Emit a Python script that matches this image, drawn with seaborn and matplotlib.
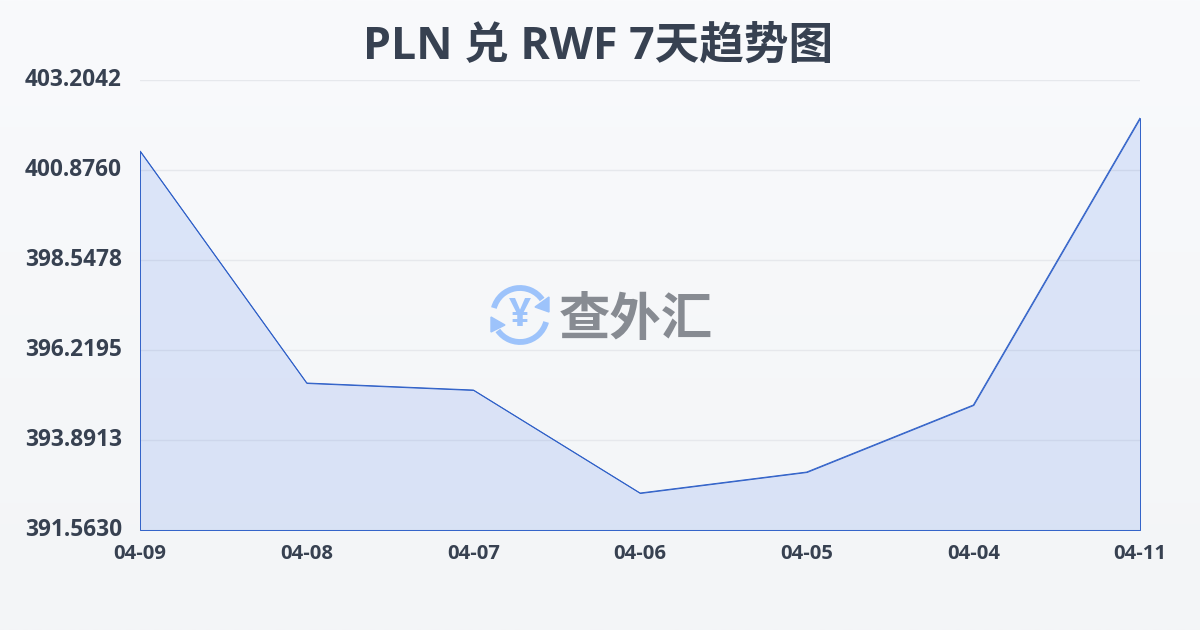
import numpy as np
import pandas as pd
import matplotlib
matplotlib.use('Agg')
import matplotlib.pyplot as plt
from matplotlib.patches import Arc, Polygon
import seaborn as sns

dates = ["04-09", "04-08", "04-07", "04-06", "04-05", "04-04", "04-11"]
rates = [401.367, 395.366, 395.185, 392.520, 393.063, 394.797, 402.221]
y_ticks = [391.5630, 393.8913, 396.2195, 398.5478, 400.8760, 403.2042]
y_labels = ["391.5630", "393.8913", "396.2195", "398.5478", "400.8760", "403.2042"]

sns.set_theme(style="white")
plt.rcParams['font.family'] = ['Open Sans', 'Noto Sans CJK SC', 'DejaVu Sans']

W, H = 1200, 630
text_color = "#374151"
line_color = "#2f60c8"

df = pd.DataFrame({"date": dates, "rate": rates})
df["pos"] = range(len(df))

fig = plt.figure(figsize=(W / 100, H / 100), dpi=100)

# background gradient
bg = fig.add_axes([0, 0, 1, 1], zorder=0)
top = np.array([0xf9, 0xfa, 0xfc]) / 255
bottom = np.array([0xf3, 0xf5, 0xf7]) / 255
t = np.linspace(0, 1, 256)[:, None, None]
bg.imshow(top * (1 - t) + bottom * t, aspect="auto", extent=[0, W, H, 0])
bg.set_xlim(0, W)
bg.set_ylim(H, 0)
bg.axis("off")

ax = fig.add_axes([140 / W, 1 - 530 / H, 1000 / W, 450 / H], zorder=1)
ax.patch.set_alpha(0)
ax.fill_between(df["pos"], df["rate"], y_ticks[0], facecolor=(0.145, 0.388, 0.92, 0.13),
                edgecolor=line_color, linewidth=0.7, clip_on=False, zorder=3)
sns.lineplot(data=df, x="pos", y="rate", ax=ax, color=line_color, linewidth=0.7,
             zorder=4, errorbar=None)

ax.set_xlim(0, len(dates) - 1)
ax.set_ylim(y_ticks[0], y_ticks[-1])
ax.set_xlabel("")
ax.set_ylabel("")
ax.set_xticks(df["pos"], dates)
ax.set_yticks(y_ticks, y_labels)
ax.grid(axis="y", color="#e6e8ec", linewidth=1)
ax.set_axisbelow(True)
for s in ax.spines.values():
    s.set_visible(False)
ax.tick_params(axis="x", length=10, width=0.8, color="#eceef2", pad=0,
               labelsize=14.6, labelcolor=text_color)
ax.tick_params(axis="y", length=0, pad=13, labelsize=16.3, labelcolor=text_color)
for lab in ax.get_xticklabels():
    lab.set_fontweight("bold")
for lab in ax.get_yticklabels():
    lab.set_fontweight("bold")
    lab.set_verticalalignment("center")

fig.text(598 / W, 1 - 47 / H, "PLN 兑 RWF 7天趋势图", ha="center", va="center",
         fontsize=32.1, fontweight="bold", color=text_color)

# watermark logo
ov = fig.add_axes([0, 0, 1, 1], zorder=5)
ov.set_xlim(0, W)
ov.set_ylim(H, 0)
ov.axis("off")
logo = "#9dc3fb"
cx, cy = 520, 315
ov.add_patch(Arc((cx, cy), 54, 54, theta1=195, theta2=325, color=logo, lw=4.2))
ov.add_patch(Arc((cx, cy), 54, 54, theta1=15, theta2=145, color=logo, lw=4.2))
ov.add_patch(Polygon([[549, 297], [549, 312], [535, 307]], closed=True, color=logo))
ov.add_patch(Polygon([[491, 317], [505, 325], [491, 332]], closed=True, color=logo))
ov.text(cx, cy, "¥", ha="center", va="center", fontsize=28, fontweight="bold",
        color=logo, family=["Open Sans", "DejaVu Sans"])
ov.text(636, 320, "查外汇", ha="center", va="center", fontsize=37, fontweight="bold",
        color="#878b92", family=["Noto Sans CJK SC", "DejaVu Sans"])

fig.savefig("out.png", dpi=100)
